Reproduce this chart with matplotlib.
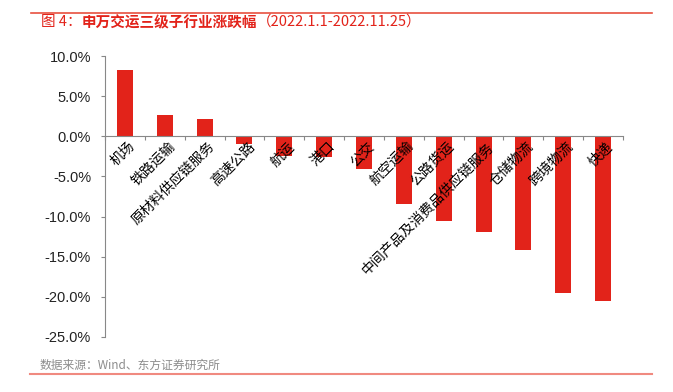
import matplotlib
matplotlib.use("Agg")
import matplotlib.pyplot as plt
import matplotlib.transforms as mtransforms
from matplotlib.lines import Line2D

plt.rcParams['font.family'] = ['Liberation Sans', 'Noto Sans CJK SC', 'DejaVu Sans']

categories = ['机场', '铁路运输', '原材料供应链服务', '高速公路', '航运', '港口', '公交',
              '航空运输', '公路货运', '中间产品及消费品供应链服务', '仓储物流', '跨境物流', '快递']
changes = [8.2, 2.6, 2.1, -0.9, -2.4, -2.6, -4.1, -8.4, -10.6, -11.9, -14.2, -19.5, -20.5]
yticks = [10, 5, 0, -5, -10, -15, -20, -25]

red = '#E2231A'
axis_gray = '#888888'

fig = plt.figure(figsize=(6.73, 3.92), dpi=100)
ax = fig.add_axes([105 / 673, 1 - 337 / 392, 518 / 673, 281 / 392])

x = list(range(len(categories)))
ax.bar(x, changes, width=0.4, color=red, zorder=2)

ax.set_xlim(-0.5, len(categories) - 0.5)
ax.set_ylim(-25, 10)
ax.set_yticks(yticks)
ax.set_yticklabels([f'{v:.1f}%' for v in yticks], fontsize=10.5, color='#222222')

ax.spines['top'].set_visible(False)
ax.spines['right'].set_visible(False)
ax.spines['bottom'].set_position(('data', 0))
for s in ('left', 'bottom'):
    ax.spines[s].set_color(axis_gray)
    ax.spines[s].set_linewidth(0.8)

ax.set_xticks([i - 0.5 for i in range(len(categories) + 1)])
ax.set_xticklabels([])
ax.tick_params(axis='x', direction='out', length=3, color=axis_gray)
ax.tick_params(axis='y', direction='out', length=3, color=axis_gray, pad=7)

offset = mtransforms.ScaledTranslation(3 / 100, -3 / 100, fig.dpi_scale_trans)
for i, name in enumerate(categories):
    ax.text(i, 0, name, rotation=45, rotation_mode='anchor', ha='right', va='top',
            fontsize=10, family=['Noto Sans CJK SC', 'DejaVu Sans'],
            transform=ax.transData + offset)

# title and source
fig.add_artist(Line2D([31 / 673, 652 / 673], [1 - 12.5 / 392] * 2, color='#E8503F', lw=1.2))
fig.add_artist(Line2D([30 / 673, 652 / 673], [1 - 374 / 392] * 2, color='#F08A80', lw=1.5))

t1 = fig.text(41 / 673, 1 - 22 / 392, '图 4：', color=red, fontsize=10.5, va='center',
              family=['Noto Sans CJK SC', 'DejaVu Sans'])
t2 = fig.text(0, 0, '申万交运三级子行业涨跌幅', color=red, fontsize=10.5, fontweight='bold',
              family=['Noto Sans CJK SC', 'DejaVu Sans'], va='center')
fig.canvas.draw()
r = fig.canvas.get_renderer()
bb1 = t1.get_window_extent(r)
t2.set_position((bb1.x1 / fig.bbox.width, 1 - 22 / 392))
fig.canvas.draw()
bb2 = t2.get_window_extent(r)
fig.text(bb2.x1 / fig.bbox.width, 1 - 22 / 392, '（2022.1.1-2022.11.25）', color=red,
         fontsize=10.5, va='center', family=['Noto Sans CJK SC', 'DejaVu Sans'])

fig.text(40 / 673, 1 - 365 / 392, '数据来源：Wind、东方证券研究所', color='#8c8c8c',
         fontsize=8.5, va='center', family=['Noto Sans CJK SC', 'DejaVu Sans'])

fig.savefig('out.png', dpi=100)
